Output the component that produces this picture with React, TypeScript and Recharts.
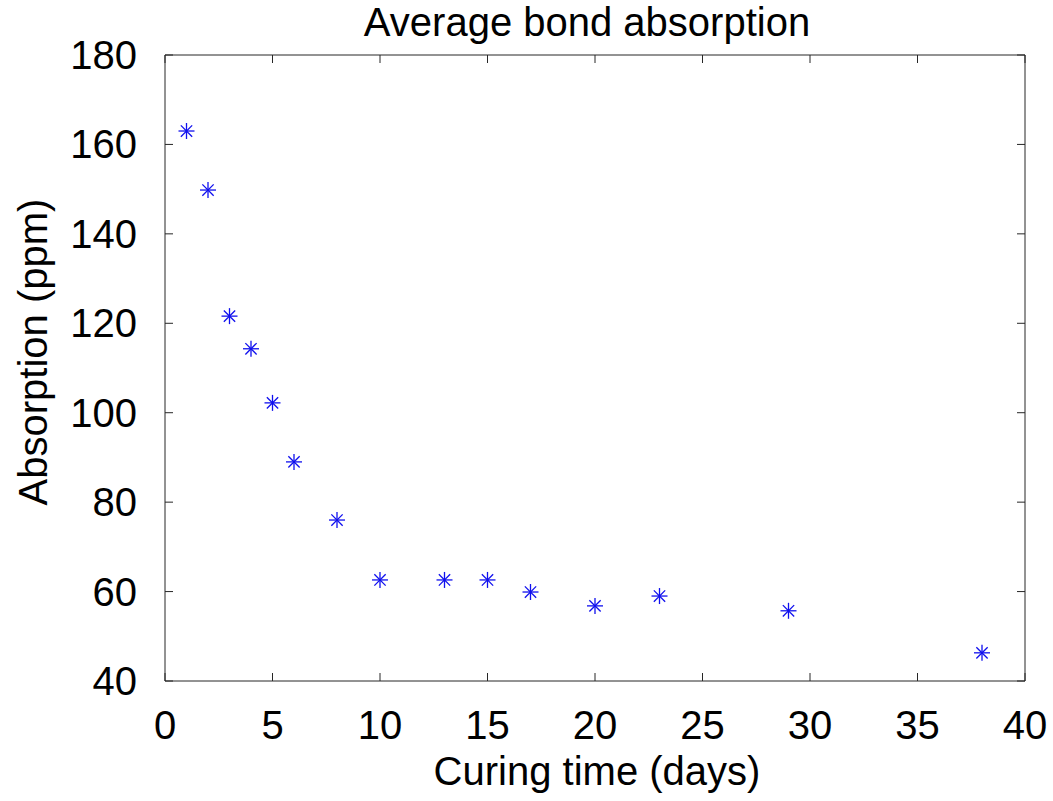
import React from 'react';
import { ScatterChart, Scatter, XAxis, YAxis } from 'recharts';

// Measured average bond absorption over curing time
const curingDays = [1, 2, 3, 4, 5, 6, 8, 10, 13, 15, 17, 20, 23, 29, 38];
const absorptionPpm = [163, 149.8, 121.6, 114.3, 102.2, 89, 76, 62.6, 62.6, 62.6, 59.9, 56.8, 59, 55.7, 46.3];

const xTicks = [0, 5, 10, 15, 20, 25, 30, 35, 40];
const yTicks = [40, 60, 80, 100, 120, 140, 160, 180];

const points = curingDays.map((d, i) => ({ days: d, ppm: absorptionPpm[i] }));

const FONT = '"Liberation Sans", Arial, Helvetica, sans-serif';
const FONT_SIZE = 40;
const AXIS_COLOR = '#262626';
const MARKER_COLOR = '#1010ee';
const TICK_LEN = 8;

const BottomTick = (props: any) => {
  const { x, y, payload } = props;
  return (
    <g>
      <line x1={x} y1={y} x2={x} y2={y - TICK_LEN} stroke={AXIS_COLOR} strokeWidth={1} />
      <text x={x} y={y + 58} textAnchor="middle" fontSize={FONT_SIZE} fontFamily={FONT} fill="#000">
        {payload.value}
      </text>
    </g>
  );
};

const TopTick = (props: any) => {
  const { x, y } = props;
  return <line x1={x} y1={y} x2={x} y2={y + TICK_LEN} stroke={AXIS_COLOR} strokeWidth={1} />;
};

const LeftTick = (props: any) => {
  const { x, y, payload } = props;
  return (
    <g>
      <line x1={x} y1={y} x2={x + TICK_LEN} y2={y} stroke={AXIS_COLOR} strokeWidth={1} />
      <text x={x - 28} y={y + 14} textAnchor="end" fontSize={FONT_SIZE} fontFamily={FONT} fill="#000">
        {payload.value}
      </text>
    </g>
  );
};

const RightTick = (props: any) => {
  const { x, y } = props;
  return <line x1={x} y1={y} x2={x - TICK_LEN} y2={y} stroke={AXIS_COLOR} strokeWidth={1} />;
};

// Eight-armed asterisk marker
const Asterisk = (props: any) => {
  const { cx, cy } = props;
  if (cx == null || cy == null) return null;
  const r = 8;
  const d = r * Math.SQRT1_2;
  return (
    <g stroke={MARKER_COLOR} strokeWidth={1.3}>
      <line x1={cx - r} y1={cy} x2={cx + r} y2={cy} />
      <line x1={cx} y1={cy - r} x2={cx} y2={cy + r} />
      <line x1={cx - d} y1={cy - d} x2={cx + d} y2={cy + d} />
      <line x1={cx - d} y1={cy + d} x2={cx + d} y2={cy - d} />
    </g>
  );
};

const NoMarker = () => null;

const TitleLabel = (props: any) => {
  const vb = props.viewBox || {};
  return (
    <text x={vb.x + vb.width / 2 - 8} y={vb.y + vb.height - 19} textAnchor="middle" fontSize={FONT_SIZE} fontFamily={FONT} fill="#000">
      Average bond absorption
    </text>
  );
};

const XTitleLabel = (props: any) => {
  const vb = props.viewBox || {};
  return (
    <text x={vb.x + vb.width / 2 + 2} y={vb.y + 104} textAnchor="middle" fontSize={FONT_SIZE} fontFamily={FONT} fill="#000">
      Curing time (days)
    </text>
  );
};

const YTitleLabel = (props: any) => {
  const vb = props.viewBox || {};
  const cx = 47;
  const cy = vb.y + vb.height / 2 - 16;
  return (
    <text
      x={cx}
      y={cy}
      transform={`rotate(-90, ${cx}, ${cy})`}
      textAnchor="middle"
      fontSize={FONT_SIZE}
      fontFamily={FONT}
      fill="#000"
    >
      Absorption (ppm)
    </text>
  );
};

export default function App() {
  return (
    <div style={{ position: 'absolute', left: 0, top: 0, width: 1053, height: 801, background: '#fff' }}>
      <ScatterChart width={1053} height={801} margin={{ top: 54, right: 27, bottom: 0, left: 0 }}>
        <XAxis
          xAxisId={0}
          type="number"
          dataKey="days"
          domain={[0, 40]}
          ticks={xTicks}
          allowDataOverflow
          height={120}
          tickSize={0}
          tickMargin={0}
          tickLine={false}
          axisLine={{ stroke: AXIS_COLOR, strokeWidth: 1 }}
          tick={<BottomTick />}
          interval={0}
          label={<XTitleLabel />}
        />
        <XAxis
          xAxisId="top"
          orientation="top"
          type="number"
          dataKey="days"
          domain={[0, 40]}
          ticks={xTicks}
          allowDataOverflow
          height={1}
          tickSize={0}
          tickMargin={0}
          tickLine={false}
          axisLine={{ stroke: AXIS_COLOR, strokeWidth: 1 }}
          tick={<TopTick />}
          interval={0}
          label={<TitleLabel />}
        />
        <YAxis
          yAxisId={0}
          type="number"
          dataKey="ppm"
          domain={[40, 180]}
          ticks={yTicks}
          allowDataOverflow
          width={165}
          tickSize={0}
          tickMargin={0}
          tickLine={false}
          axisLine={{ stroke: AXIS_COLOR, strokeWidth: 1 }}
          tick={<LeftTick />}
          interval={0}
          label={<YTitleLabel />}
        />
        <YAxis
          yAxisId="right"
          orientation="right"
          type="number"
          dataKey="ppm"
          domain={[40, 180]}
          ticks={yTicks}
          allowDataOverflow
          width={1}
          tickSize={0}
          tickMargin={0}
          tickLine={false}
          axisLine={{ stroke: AXIS_COLOR, strokeWidth: 1 }}
          tick={<RightTick />}
          interval={0}
        />
        {/* frame series: binds the top and right axes so the box closes */}
        <Scatter
          data={points}
          xAxisId="top"
          yAxisId="right"
          shape={<NoMarker />}
          legendType="none"
          isAnimationActive={false}
        />
        <Scatter
          data={points}
          xAxisId={0}
          yAxisId={0}
          shape={<Asterisk />}
          isAnimationActive={false}
        />
      </ScatterChart>
    </div>
  );
}
